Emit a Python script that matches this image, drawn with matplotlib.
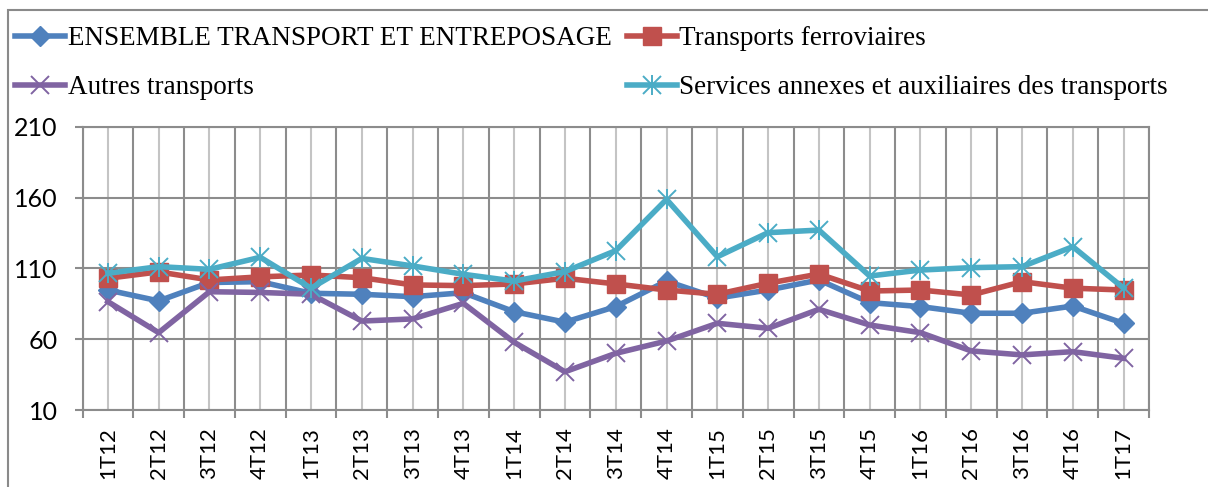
import matplotlib
matplotlib.use("Agg")
import matplotlib.pyplot as plt
from matplotlib.patches import Rectangle
from matplotlib.legend_handler import HandlerTuple
import numpy as np

categories = ["1T12", "2T12", "3T12", "4T12", "1T13", "2T13", "3T13", "4T13",
              "1T14", "2T14", "3T14", "4T14", "1T15", "2T15", "3T15", "4T15",
              "1T16", "2T16", "3T16", "4T16", "1T17"]
ensemble = [94.7, 87, 100, 100.6, 92.4, 91.7, 90, 92.8, 79.4, 72, 83, 101,
            89, 94.7, 101.8, 85.8, 83, 78.3, 78.3, 83.4, 71.2]
ferroviaires = [103, 107.5, 101.8, 104, 105.3, 103.4, 98.3, 97.8, 99, 103, 99, 94.7,
                91.7, 99.5, 106, 94, 94.7, 91.2, 100.6, 96, 94.7]
autres = [86.5, 64.6, 93.5, 93, 91.7, 72.8, 74.3, 85.3, 57.8, 37, 50, 58.7,
          71.2, 67.7, 81.1, 70, 64.6, 51.7, 48.9, 51.2, 46.5]
services = [106.5, 111.2, 109.3, 117.8, 96, 117, 111.7, 105.8, 101, 107.7, 122.5, 158.7,
            118.2, 135.2, 137, 104.6, 108.8, 110.5, 111.2, 125.3, 96]
yticks = [10, 60, 110, 160, 210]

labels = ["ENSEMBLE TRANSPORT ET ENTREPOSAGE", "Transports ferroviaires",
          "Autres transports", "Services annexes et auxiliaires des transports"]
colors = ["#4F81BD", "#C0504D", "#8064A2", "#4BACC6"]

W, H = 1208, 487
fig = plt.figure(figsize=(W / 100, H / 100), dpi=100)
ax = fig.add_axes([82.5 / W, (H - 410) / H, (1149 - 82.5) / W, (410 - 126.7) / H])

x = np.arange(len(categories))
lw = 4.0
h_ens, = ax.plot(x, ensemble, color=colors[0], lw=lw, marker="D", ms=10,
                 mec=colors[0], mfc=colors[0], zorder=3)
h_fer, = ax.plot(x, ferroviaires, color=colors[1], lw=lw, marker="s", ms=12.5,
                 mec=colors[1], mfc=colors[1], zorder=4)
h_aut, = ax.plot(x, autres, color=colors[2], lw=lw, marker="x", ms=12.5,
                 mew=1.4, mec=colors[2], zorder=5)
h_ser, = ax.plot(x, services, color=colors[3], lw=lw, marker="x", ms=12.5,
                 mew=1.4, mec=colors[3], zorder=6)
h_ser2, = ax.plot(x, services, ls="none", marker="|", ms=15,
                  mew=1.4, mec=colors[3], zorder=6)

ax.set_xlim(-0.5, len(categories) - 0.5)
ax.set_ylim(10, 210)
ax.set_yticks(yticks)
ax.set_yticklabels([str(v) for v in yticks])

ax.set_xticks(np.arange(-0.5, len(categories), 1.0))
ax.set_xticklabels([])
ax.set_xticks(x, minor=True)
ax.set_xticklabels(categories, minor=True, rotation=90)

major_c = "#8C8C8C"
minor_c = "#C4C4C4"
ax.grid(True, which="major", axis="both", color=major_c, lw=1.5, zorder=0)
ax.grid(True, which="minor", axis="x", color=minor_c, lw=1.5, zorder=0)
ax.set_axisbelow(True)

tickfont = "Lato"
ax.tick_params(axis="x", which="major", length=5.8, width=1.5, color=major_c, direction="out")
ax.tick_params(axis="x", which="minor", length=0, pad=12, labelsize=16)
ax.tick_params(axis="y", which="major", length=5.8, width=1.5, color=major_c,
               pad=12, labelsize=18)
for lab in ax.get_xticklabels(minor=True) + ax.get_yticklabels():
    lab.set_fontfamily(tickfont)
    lab.set_color("black")
for s in ax.spines.values():
    s.set_color(major_c)
    s.set_linewidth(1.5)

# outer frame
fig.patches.append(Rectangle((8 / W, -0.1), 1.2, (H - 10) / H + 0.1,
                             transform=fig.transFigure, fill=False,
                             edgecolor="#8A8A8A", lw=1.5))

handles = [h_ens, h_aut, h_fer, (h_ser, h_ser2)]
hlabels = [labels[0], labels[2], labels[1], labels[3]]
fig.legend(handles, hlabels, loc="upper left", bbox_to_anchor=(15 / W, 1 - 26 / H),
           ncol=2, frameon=False, borderpad=0, borderaxespad=0,
           handlelength=1.85, handletextpad=0.1, columnspacing=0.55,
           labelspacing=0.9,
           prop={"family": "Liberation Serif", "size": 19.5},
           handler_map={tuple: HandlerTuple(ndivide=1, pad=0)})

fig.savefig("out.png", dpi=100)
